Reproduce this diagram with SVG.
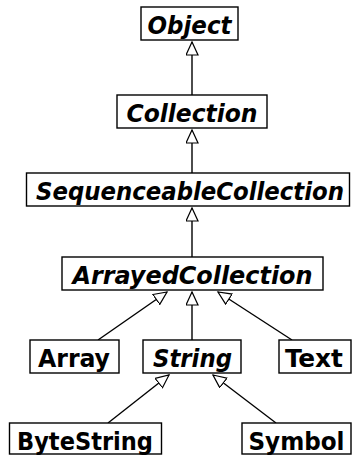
<svg xmlns="http://www.w3.org/2000/svg" width="353" height="455" viewBox="0 0 353 455">
<style>
.box{fill:#fff;stroke:#000;stroke-width:1.4}
.t{font-family:"DejaVu Sans Condensed","DejaVu Sans",sans-serif;font-stretch:condensed;font-weight:bold;font-size:25px;text-anchor:middle;fill:#000}
.a{font-style:italic}
.c{stroke:#000;stroke-width:1.4;fill:none;marker-end:url(#tri)}
</style>
<defs>
<marker id="tri" markerUnits="userSpaceOnUse" markerWidth="16" markerHeight="14" refX="13.5" refY="6.5" orient="auto" viewBox="0 0 16 14">
<path d="M0.5,0.5 L13.5,6.5 L0.5,12.5 Z" fill="#fff" stroke="#000" stroke-width="1.2"/>
</marker>
</defs>
<g id="connectors">
<line class="c" x1="192" y1="95" x2="192" y2="42"/>
<line class="c" x1="192" y1="173" x2="192" y2="130"/>
<line class="c" x1="192" y1="257" x2="192" y2="208"/>
<line class="c" x1="98" y1="340" x2="167" y2="292"/>
<line class="c" x1="192" y1="340" x2="192" y2="292"/>
<line class="c" x1="292" y1="340" x2="218" y2="292"/>
<line class="c" x1="108" y1="423" x2="169" y2="375"/>
<line class="c" x1="276" y1="423" x2="213" y2="375"/>
</g>
<g id="Object"><rect class="box" x="141" y="7" width="97" height="33"/><text class="t a" x="189.5" y="34" textLength="84" lengthAdjust="spacingAndGlyphs">Object</text></g>
<g id="Collection"><rect class="box" x="117" y="95" width="150" height="33"/><text class="t a" x="192" y="122" textLength="131" lengthAdjust="spacingAndGlyphs">Collection</text></g>
<g id="SequenceableCollection"><rect class="box" x="26.5" y="173" width="323" height="33"/><text class="t a" x="190" y="200" textLength="308" lengthAdjust="spacingAndGlyphs">SequenceableCollection</text></g>
<g id="ArrayedCollection"><rect class="box" x="62" y="257" width="261" height="33"/><text class="t a" x="192.5" y="284" textLength="240" lengthAdjust="spacingAndGlyphs">ArrayedCollection</text></g>
<g id="Array"><rect class="box" x="30" y="340" width="89" height="33"/><text class="t" x="74" y="367" textLength="72" lengthAdjust="spacingAndGlyphs">Array</text></g>
<g id="String"><rect class="box" x="143" y="340" width="98" height="33"/><text class="t a" x="192.5" y="367" textLength="79" lengthAdjust="spacingAndGlyphs">String</text></g>
<g id="Text"><rect class="box" x="279" y="340" width="72" height="33"/><text class="t" x="314" y="367" textLength="58" lengthAdjust="spacingAndGlyphs">Text</text></g>
<g id="ByteString"><rect class="box" x="9.5" y="423" width="152" height="31"/><text class="t" x="85" y="450" textLength="136" lengthAdjust="spacingAndGlyphs">ByteString</text></g>
<g id="Symbol"><rect class="box" x="242" y="423" width="109" height="31"/><text class="t" x="296.5" y="450" textLength="96" lengthAdjust="spacingAndGlyphs">Symbol</text></g>
</svg>
